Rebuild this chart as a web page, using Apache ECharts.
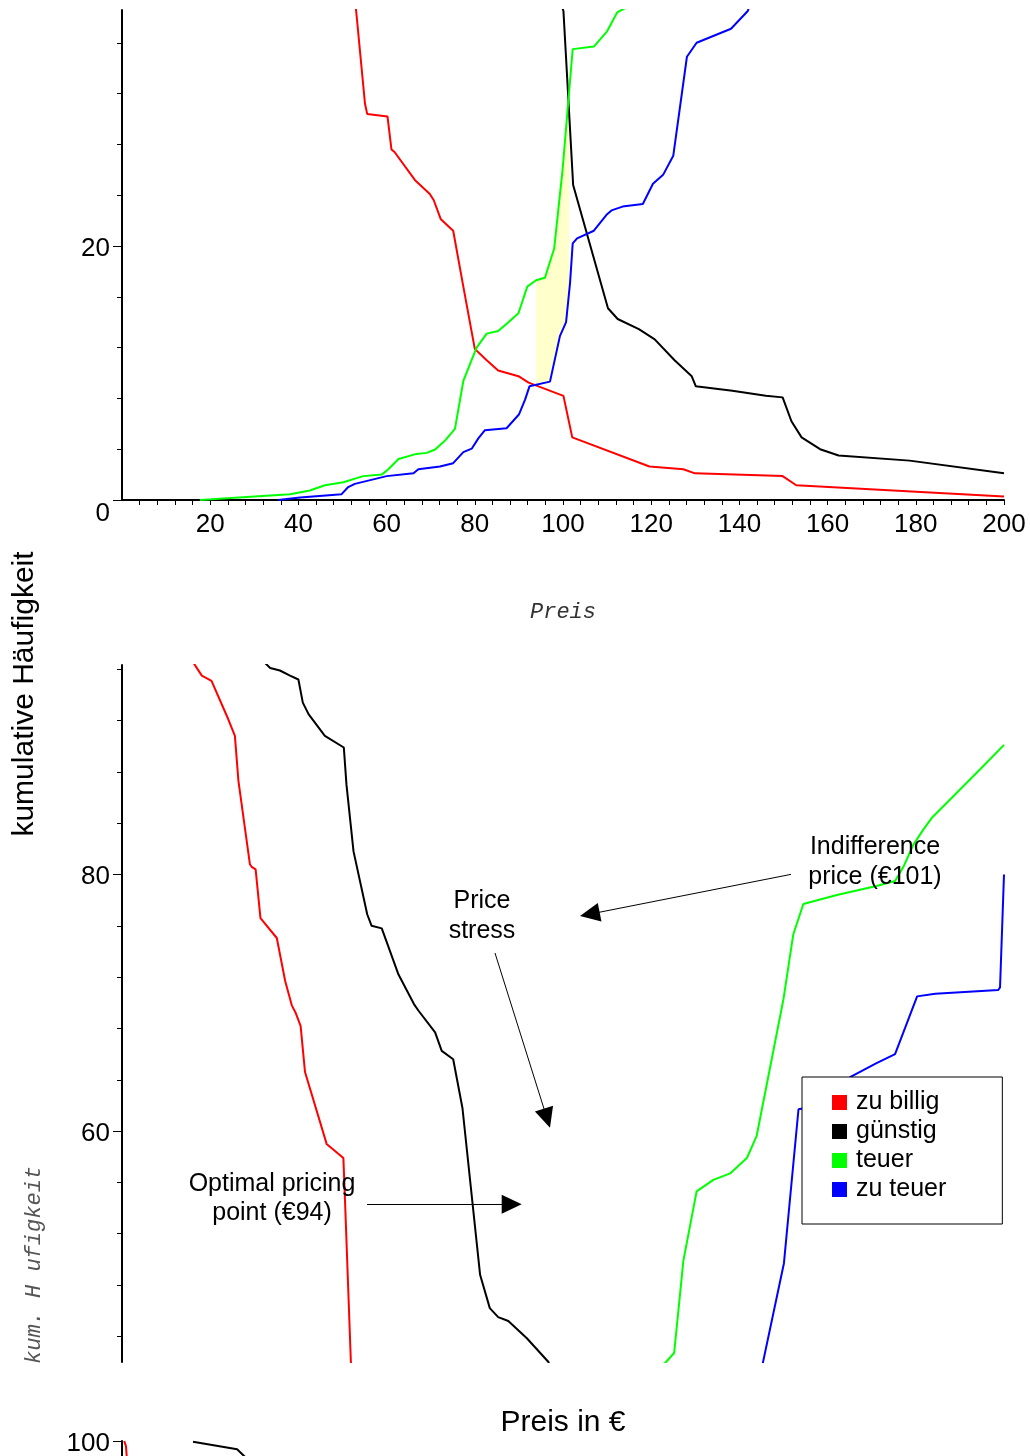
<!DOCTYPE html>
<html><head><meta charset="utf-8">
<script src="https://cdn.jsdelivr.net/npm/echarts@6/dist/echarts.min.js"></script>
<style>html,body{margin:0;padding:0;background:#fff}#c{width:1030px;height:1456px}</style>
</head><body><div id="c"></div>
<script>
const seriesNames = ['zu billig', 'günstig', 'teuer', 'zu teuer'];
const seriesColors = ['#ff0000', '#000000', '#00ff00', '#0000ff'];

const zuBillig = [[0.5,100],[0.9,99.6],[1.2,98.2],[8.0,97.3],[16.2,96.5],[18.1,95.5],[20.3,95.1],[24.1,92.1],[25.6,90.8],[26.4,87.3],[29.0,80.8],[29.4,80.6],[30.3,80.4],[31.4,76.6],[35.1,75.05],[37.0,71.7],[38.5,69.8],[39.4,69.2],[40.5,68.2],[41.5,64.6],[46.4,59.0],[50.2,57.9],[50.6,54.3],[51.9,42.0],[53.1,38.5],[55.1,31.2],[55.6,30.4],[60.2,30.2],[61.1,27.6],[61.8,27.4],[66.4,25.2],[69.8,24.1],[70.7,23.6],[72.3,22.1],[75.1,21.2],[77.4,16.8],[80.0,11.9],[82.7,11.0],[85.3,10.2],[89.9,9.75],[92.2,9.24],[100.1,8.2],[102.1,4.93],[119.6,2.64],[127.3,2.42],[129.9,2.1],[149.8,1.88],[152.9,1.16],[200,0.27]];

const guenstig = [[16.1,99.95],[26.1,99.35],[29.0,98.4],[32.4,96.5],[33.6,96.1],[35.8,95.9],[38.1,95.5],[40.0,95.2],[41.0,93.4],[42.3,92.5],[46.0,90.8],[50.3,89.9],[50.9,87.0],[52.5,81.8],[55.6,76.9],[56.6,76.0],[58.9,75.8],[62.7,72.2],[66.2,69.9],[67.2,69.4],[71.0,67.7],[72.5,66.25],[75.1,65.6],[77.2,61.8],[81.2,48.8],[83.4,46.2],[85.3,45.5],[87.6,45.2],[91.8,43.85],[96.7,42.0],[100.1,38.5],[102.3,24.8],[110.2,15.1],[112.4,14.25],[117.2,13.45],[120.8,12.65],[125.3,11.0],[129.2,9.74],[130.1,8.96],[138.4,8.6],[146.0,8.2],[149.8,8.08],[151.8,6.2],[154.1,4.93],[158.3,4.0],[162.5,3.5],[178.6,3.1],[200,2.1]];

const teuer = [[17.7,0],[20.3,0.05],[38.1,0.46],[42.6,0.75],[46.0,1.16],[50.2,1.4],[54.7,1.88],[58.9,2.0],[60.4,2.42],[62.7,3.23],[66.8,3.63],[69.1,3.71],[71.0,3.98],[73.2,4.66],[75.5,5.6],[77.4,9.37],[80.4,12.0],[82.7,13.1],[85.3,13.3],[87.3,13.9],[89.9,14.7],[91.9,16.8],[93.9,17.3],[95.9,17.5],[98.0,19.8],[99.9,26.0],[102.2,35.5],[107.0,35.7],[110.0,36.9],[112.3,38.4],[114.5,38.8],[123.1,41.9],[125.2,42.7],[127.3,49.9],[130.3,55.3],[134.1,56.2],[137.9,56.7],[141.7,57.9],[143.9,59.6],[150.0,70.3],[152.2,75.3],[154.5,77.7],[162.1,78.4],[171.1,79.1],[175.3,79.5],[177.2,80.6],[179.4,82.3],[181.7,83.5],[183.6,84.4],[194.6,88.2],[200,90.1]];

const zuTeuer = [[35.4,0],[40.4,0.19],[49.8,0.46],[51.3,1.02],[52.8,1.27],[60.0,1.88],[66.1,2.1],[67.2,2.42],[72.1,2.64],[75.1,2.9],[77.4,3.77],[79.3,4.04],[80.8,4.85],[82.3,5.5],[87.2,5.65],[90.0,6.73],[91.4,7.9],[92.4,8.95],[97.05,9.32],[99.3,12.9],[100.7,14.0],[101.6,17.1],[102.2,20.2],[103.2,20.6],[107.0,21.2],[110.0,22.5],[111.0,22.8],[113.5,23.1],[118.1,23.3],[120.4,24.9],[122.7,25.6],[125.0,27.1],[128.1,34.9],[130.3,36.0],[138.1,37.1],[141.9,38.5],[145.3,41.9],[150.1,49.7],[153.4,61.7],[156.4,61.9],[165.1,64.2],[171.1,65.3],[175.3,66.0],[180.3,70.5],[184.4,70.7],[198.7,71.0],[199.1,71.2],[200,80.0]];

// shaded band between optimal pricing point and indifference price
const bandTop = [[93.9,17.3],[95.9,17.5],[98.0,19.8],[99.9,26.0],[101.4,30.9]];
const bandBottom = [[93.9,9.05],[97.05,9.32],[99.3,12.9],[100.7,14.0],[101.4,16.4]];

// tick values / labels
const xTickValues = [4,8,12,16,20,24,28,32,36,40,44,48,52,56,60,64,68,72,76,80,84,88,92,96,100,104,108,112,116,120,124,128,132,136,140,144,148,152,156,160,164,168,172,176,180,184,188,192,196,200];
const xLabelValues = [20,40,60,80,100,120,140,160,180,200];
const topYTicks = [0,4,8,12,16,20,24,28,32,36];
const topYMajor = [0,20];
const midYTicks = [44,48,52,56,60,64,68,72,76,80,84,88,92,96];
const midYMajor = [60,80];
const lowYTicks = [84,88,92,96,100];
const lowYMajor = [100];

// annotation arrows (data coordinates of the lower panel)
const arrows = [
  [[151.70, 80.01], [106.08, 76.91]],
  [[84.58, 73.88], [96.37, 61.00]],
  [[55.56, 54.29], [88.37, 54.29]]
];

const FONT = 'Liberation Sans';
const chart = echarts.init(document.getElementById('c'), null, {renderer: 'canvas'});

const grids = [
  {left: 122, top: 10, width: 882, height: 490, outerBoundsMode: 'none', containLabel: false},
  {left: 122, top: 665, width: 882, height: 697, outerBoundsMode: 'none', containLabel: false},
  {left: 122, top: 1441, width: 882, height: 231, outerBoundsMode: 'none', containLabel: false}
];
const yRanges = [[0, 38.58], [42, 96.33], [82, 100]];
const yTicks = [topYTicks, midYTicks, lowYTicks];
const yMajor = [topYMajor, midYMajor, lowYMajor];

const xAxes = [0, 1, 2].map(g => ({
  type: 'value', gridIndex: g, min: 0, max: 200, show: g === 0,
  axisLine: {show: true, lineStyle: {color: '#000', width: 2}},
  axisTick: {show: true, customValues: xTickValues, length: 5, lineStyle: {color: '#000', width: 1}},
  axisLabel: {customValues: xLabelValues, fontSize: 26, color: '#000', margin: 12, fontFamily: FONT},
  splitLine: {show: false},
  name: g === 0 ? 'Preis' : '',
  nameLocation: 'middle', nameGap: 101,
  nameTextStyle: {fontFamily: 'Liberation Mono', fontStyle: 'italic', fontSize: 22, color: '#333'}
}));

const yAxes = [];
[0, 1, 2].forEach(g => {
  yAxes.push({
    type: 'value', gridIndex: g, min: yRanges[g][0], max: yRanges[g][1], position: 'left',
    axisLine: {show: true, lineStyle: {color: '#000', width: 2}},
    axisTick: {show: true, customValues: yTicks[g], length: 5, lineStyle: {color: '#000', width: 1}},
    axisLabel: {
      customValues: yMajor[g], fontSize: 26, color: '#000', margin: 12, fontFamily: FONT,
      formatter: v => (v === 0 ? '{z|0}' : '{n|' + v + '}'),
      rich: {
        z: {fontSize: 26, fontFamily: FONT, color: '#000', padding: [28, 0, 0, 0]},
        n: {fontSize: 26, fontFamily: FONT, color: '#000', padding: [5, 0, 0, 0]}
      }
    },
    splitLine: {show: false}
  });
  yAxes.push({
    type: 'value', gridIndex: g, min: yRanges[g][0], max: yRanges[g][1], position: 'left', offset: 0,
    axisLine: {show: false},
    axisTick: {show: true, customValues: yMajor[g], length: 9, lineStyle: {color: '#000', width: 1}},
    axisLabel: {show: false},
    splitLine: {show: false}
  });
});

const curves = [zuBillig, guenstig, teuer, zuTeuer];
const series = [];
series.push({
  type: 'custom', xAxisIndex: 0, yAxisIndex: 0, data: [0], silent: true, z: 1, clip: true,
  renderItem: (params, api) => {
    const pts = bandTop.map(p => api.coord(p)).concat(bandBottom.slice().reverse().map(p => api.coord(p)));
    return {type: 'polygon', shape: {points: pts}, style: {fill: '#ffffcc'}};
  }
});
[0, 1, 2].forEach(g => {
  curves.forEach((d, i) => {
    series.push({
      type: 'line', name: seriesNames[i], xAxisIndex: g, yAxisIndex: g * 2, data: d,
      showSymbol: false, symbol: 'none', clip: true, silent: true, z: 3,
      lineStyle: {color: seriesColors[i], width: 2},
      itemStyle: {color: seriesColors[i]}
    });
  });
});
series.push({
  type: 'line', name: 'annot', xAxisIndex: 1, yAxisIndex: 2, data: [], silent: true,
  markLine: {
    silent: true, animation: false,
    symbol: ['none', 'triangle'], symbolSize: [19, 20],
    lineStyle: {color: '#000', width: 1, type: 'solid'},
    itemStyle: {color: '#000'},
    label: {show: false},
    emphasis: {disabled: true},
    data: arrows.map(a => [{coord: a[0]}, {coord: a[1]}])
  }
});

const txt = (x, y, text, extra) => ({
  type: 'text', x, y, silent: true, z: 10,
  style: Object.assign({text, fontSize: 25, fontFamily: FONT, fill: '#000', align: 'center', verticalAlign: 'middle'}, extra || {})
});

const labelA = txt(25, 694, 'kumulative Häufigkeit', {fontSize: 30});
labelA.rotation = Math.PI / 2;
const labelB = txt(34, 1364, 'kum. H ufigkeit', {fontFamily: 'Liberation Mono', fontStyle: 'italic', fontSize: 22, fill: '#555', align: 'left'});
labelB.rotation = Math.PI / 2;

chart.setOption({
  animation: false,
  textStyle: {fontFamily: FONT},
  grid: grids,
  xAxis: xAxes,
  yAxis: yAxes,
  legend: {
    data: seriesNames, orient: 'vertical', left: 802, top: 1077,
    padding: [13, 56, 22, 30], itemWidth: 15, itemHeight: 15, itemGap: 4, icon: 'rect',
    borderColor: '#000', borderWidth: 1, backgroundColor: '#fff', selectedMode: false,
    textStyle: {fontSize: 25, color: '#000', fontFamily: FONT, lineHeight: 25, padding: [0, 0, 0, 4]}
  },
  series,
  graphic: [
    labelA,
    labelB,
    txt(563, 1423, 'Preis in €', {fontSize: 30}),
    txt(875, 862.5, 'Indifference\nprice (€101)', {lineHeight: 30}),
    txt(482, 916, 'Price\nstress', {lineHeight: 30}),
    txt(272, 1198.5, 'Optimal pricing\npoint (€94)', {lineHeight: 29})
  ]
});
</script></body></html>
